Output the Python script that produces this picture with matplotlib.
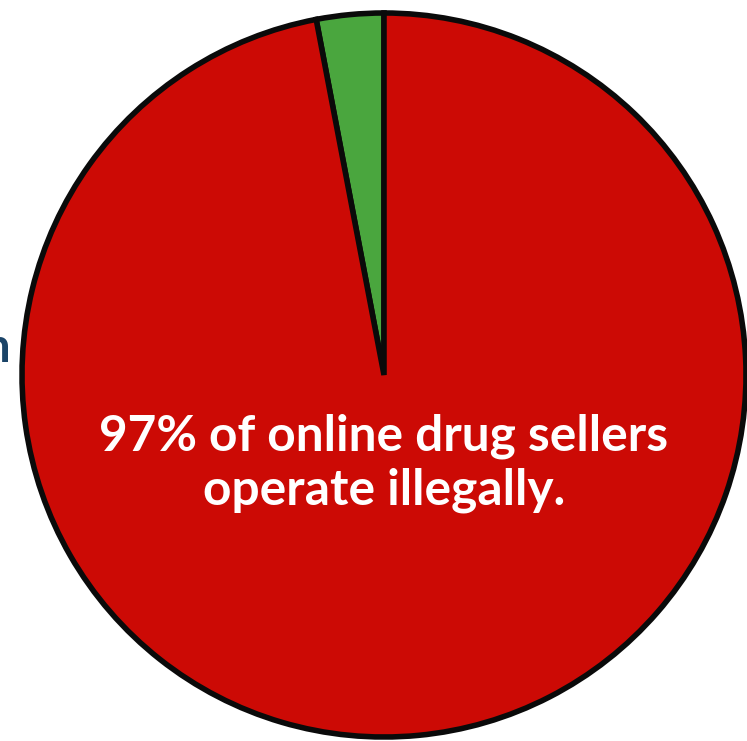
import matplotlib
matplotlib.use("Agg")
import matplotlib.pyplot as plt

labels = ["Legal", "Illegal"]
values = [3, 97]
colors = ["#4AA63E", "#CC0A05"]
caption = "97% of online drug sellers\noperate illegally."

fig = plt.figure(figsize=(7.47, 7.41), dpi=100)
ax = fig.add_axes([0, 0, 1, 1])
ax.pie(values, colors=colors, startangle=90, counterclock=True,
       radius=1.0, center=(0, 0),
       wedgeprops=dict(edgecolor="#0A0A0A", linewidth=4.0, joinstyle="miter"))
ax.set_xlim(-384 / 362, (747 - 384) / 362)
ax.set_ylim(-(741 - 375) / 362, 375 / 362)
ax.set_aspect("auto")
ax.axis("off")

ax.text(0.0, -0.243, caption, ha="center", va="center", color="white",
        fontsize=35.7, fontweight="bold", family=["Lato", "DejaVu Sans"],
        linespacing=1.22)

fig.text(10 / 747, 1 - 348 / 741, "n", ha="right", va="center",
         color="#1B4468", fontsize=34, fontweight="bold",
         family=["Lato", "DejaVu Sans"])

fig.savefig("out.png", dpi=100)
